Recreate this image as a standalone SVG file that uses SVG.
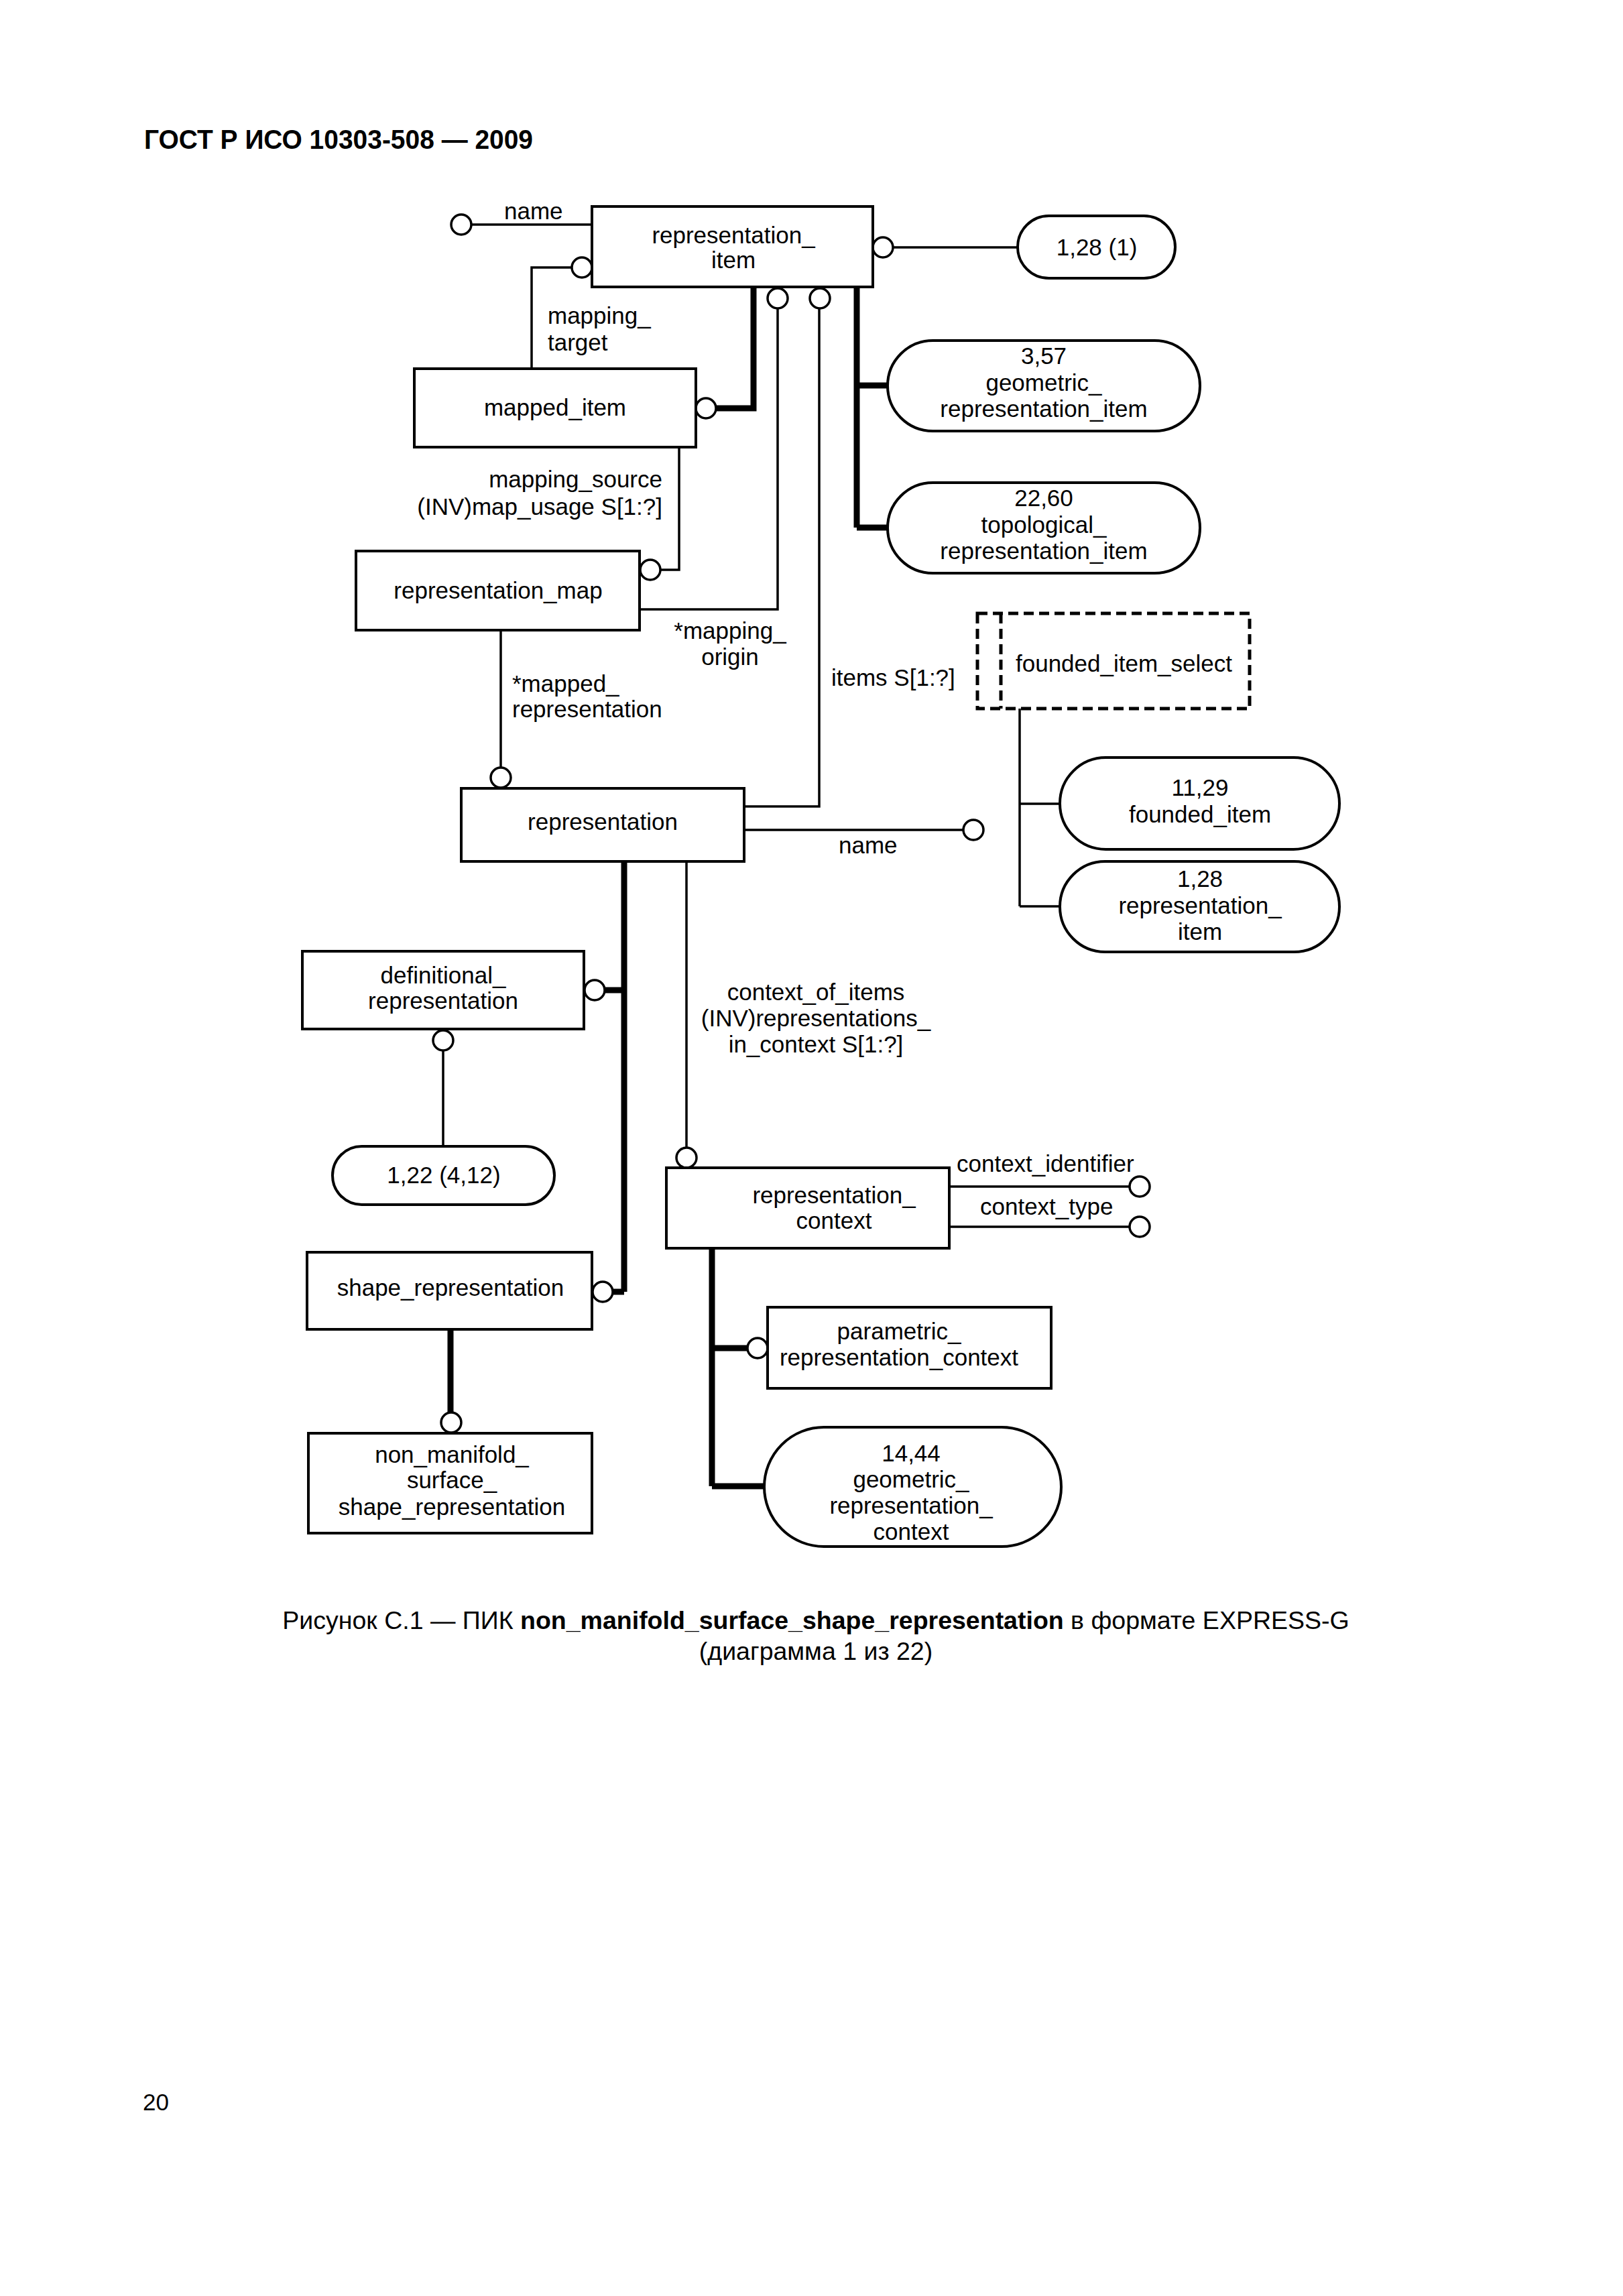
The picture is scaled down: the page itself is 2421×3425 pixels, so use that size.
<svg xmlns="http://www.w3.org/2000/svg" width="2421" height="3425" viewBox="0 0 2421 3425">
<style>
text{font-family:"Liberation Sans",Arial,sans-serif;font-size:35px;fill:#000}
.c{text-anchor:middle}
.e{text-anchor:end}
.box{fill:#fff;stroke:#000;stroke-width:4}
.pill{fill:#fff;stroke:#000;stroke-width:4}
.sel{fill:none;stroke:#000;stroke-width:5;stroke-dasharray:15 8}
.ln{fill:none;stroke:#000;stroke-width:3.5}
.thk{fill:none;stroke:#000;stroke-width:9}
.o{fill:#fff;stroke:#000;stroke-width:3.5}
.hdr{font-size:40px;font-weight:bold}
.cap{font-size:37.5px}
</style>
<rect x="0" y="0" width="2421" height="3425" fill="#fff"/>
<text class="hdr" x="215" y="222" textLength="580" lengthAdjust="spacingAndGlyphs">ГОСТ Р ИСО 10303-508 — 2009</text>

<g id="connectors">
  <path class="ln" d="M703,335 H883"/>
  <path class="ln" d="M853,399 H793 V550"/>
  <path class="ln" d="M1332,369 H1518"/>
  <path class="thk" d="M1124,428 V609 H1068"/>
  <path class="thk" d="M1278,428 V787 M1278,575 H1324 M1278,787 H1324"/>
  <path class="ln" d="M1013,667 V850 H986"/>
  <path class="ln" d="M954,909 H1160 V460"/>
  <path class="ln" d="M747,940 V1144"/>
  <path class="ln" d="M1110,1203 H1222 V460"/>
  <path class="ln" d="M1110,1238 H1437"/>
  <path class="ln" d="M1521,1057 V1352 M1521,1199 H1581 M1521,1352 H1581"/>
  <path class="thk" d="M931,1285 V1927 M931,1477 H902 M931,1927 H914"/>
  <path class="ln" d="M661,1567 V1710"/>
  <path class="ln" d="M1024,1285 V1712"/>
  <path class="ln" d="M1416,1770 H1685 M1416,1830 H1685"/>
  <path class="thk" d="M1062,1862 V2217 M1062,2011 H1115 M1062,2217 H1140"/>
  <path class="thk" d="M672,1983 V2107"/>
  <circle class="o" cx="688" cy="335" r="15"/>
  <circle class="o" cx="868" cy="399" r="15"/>
  <circle class="o" cx="1317" cy="369" r="15"/>
  <circle class="o" cx="1053" cy="609" r="15"/>
  <circle class="o" cx="1160" cy="445" r="15"/>
  <circle class="o" cx="1223" cy="445" r="15"/>
  <circle class="o" cx="970" cy="850" r="15"/>
  <circle class="o" cx="747" cy="1160" r="15"/>
  <circle class="o" cx="1452" cy="1238" r="15"/>
  <circle class="o" cx="887" cy="1477" r="15"/>
  <circle class="o" cx="899" cy="1927" r="15"/>
  <circle class="o" cx="661" cy="1552" r="15"/>
  <circle class="o" cx="1024" cy="1727" r="15"/>
  <circle class="o" cx="1700" cy="1770" r="15"/>
  <circle class="o" cx="1700" cy="1830" r="15"/>
  <circle class="o" cx="1130" cy="2011" r="15"/>
  <circle class="o" cx="673" cy="2122" r="15"/>
  <text x="752" y="327">name</text>
  <text x="817" y="483">mapping_</text>
  <text x="817" y="523">target</text>
  <text class="e" x="988" y="727">mapping_source</text>
  <text class="e" x="988" y="768">(INV)map_usage S[1:?]</text>
  <text class="c" x="1089" y="953">*mapping_</text>
  <text class="c" x="1089" y="992">origin</text>
  <text x="764" y="1032">*mapped_</text>
  <text x="764" y="1070">representation</text>
  <text x="1240" y="1023">items S[1:?]</text>
  <text x="1251" y="1273">name</text>
  <text class="c" x="1217" y="1492">context_of_items</text>
  <text class="c" x="1217" y="1531">(INV)representations_</text>
  <text class="c" x="1217" y="1570">in_context S[1:?]</text>
  <text x="1427" y="1748">context_identifier</text>
  <text x="1462" y="1812">context_type</text>
</g>

<g id="representation_item">
  <rect class="box" x="883" y="308" width="419" height="120"/>
  <text class="c" x="1094" y="363">representation_</text>
  <text class="c" x="1094" y="400">item</text>
</g>
<g id="ref_1_28_1">
  <rect class="pill" x="1518" y="322" width="235" height="93" rx="46.5" ry="46.5"/>
  <text class="c" x="1636" y="381">1,28 (1)</text>
</g>
<g id="mapped_item">
  <rect class="box" x="618" y="550" width="420" height="117"/>
  <text class="c" x="828" y="620">mapped_item</text>
</g>
<g id="geometric_representation_item">
  <rect class="pill" x="1324" y="508" width="466" height="135" rx="67.5" ry="67.5"/>
  <text class="c" x="1557" y="543">3,57</text>
  <text class="c" x="1557" y="583">geometric_</text>
  <text class="c" x="1557" y="622">representation_item</text>
</g>
<g id="topological_representation_item">
  <rect class="pill" x="1324" y="720" width="466" height="135" rx="67.5" ry="67.5"/>
  <text class="c" x="1557" y="755">22,60</text>
  <text class="c" x="1557" y="795">topological_</text>
  <text class="c" x="1557" y="834">representation_item</text>
</g>
<g id="representation_map">
  <rect class="box" x="531" y="822" width="423" height="118"/>
  <text class="c" x="743" y="893">representation_map</text>
</g>
<g id="founded_item_select">
  <rect class="sel" x="1458" y="915" width="406" height="142"/>
  <path class="sel" d="M1493,915 V1057"/>
  <text x="1515" y="1002">founded_item_select</text>
</g>
<g id="founded_item">
  <rect class="pill" x="1581" y="1130" width="417" height="137" rx="68.5" ry="68.5"/>
  <text class="c" x="1790" y="1187">11,29</text>
  <text class="c" x="1790" y="1227">founded_item</text>
</g>
<g id="ref_representation_item">
  <rect class="pill" x="1581" y="1285" width="417" height="135" rx="67.5" ry="67.5"/>
  <text class="c" x="1790" y="1323">1,28</text>
  <text class="c" x="1790" y="1363">representation_</text>
  <text class="c" x="1790" y="1402">item</text>
</g>
<g id="representation">
  <rect class="box" x="688" y="1176" width="422" height="109"/>
  <text class="c" x="899" y="1238">representation</text>
</g>
<g id="definitional_representation">
  <rect class="box" x="451" y="1419" width="420" height="116"/>
  <text class="c" x="661" y="1467">definitional_</text>
  <text class="c" x="661" y="1505">representation</text>
</g>
<g id="ref_1_22">
  <rect class="pill" x="496" y="1710" width="331" height="87" rx="43.5" ry="43.5"/>
  <text class="c" x="662" y="1765">1,22 (4,12)</text>
</g>
<g id="representation_context">
  <rect class="box" x="994" y="1742" width="422" height="120"/>
  <text class="c" x="1244" y="1795">representation_</text>
  <text class="c" x="1244" y="1833">context</text>
</g>
<g id="shape_representation">
  <rect class="box" x="458" y="1868" width="425" height="115"/>
  <text class="c" x="672" y="1933">shape_representation</text>
</g>
<g id="parametric_representation_context">
  <rect class="box" x="1145" y="1950" width="423" height="121"/>
  <text class="c" x="1341" y="1998">parametric_</text>
  <text class="c" x="1341" y="2037">representation_context</text>
</g>
<g id="geometric_representation_context">
  <rect class="pill" x="1140" y="2129" width="443" height="178" rx="89" ry="89"/>
  <text class="c" x="1359" y="2180">14,44</text>
  <text class="c" x="1359" y="2219">geometric_</text>
  <text class="c" x="1359" y="2258">representation_</text>
  <text class="c" x="1359" y="2297">context</text>
</g>
<g id="non_manifold_surface_shape_representation">
  <rect class="box" x="460" y="2138" width="423" height="149"/>
  <text class="c" x="674" y="2182">non_manifold_</text>
  <text class="c" x="674" y="2220">surface_</text>
  <text class="c" x="674" y="2260">shape_representation</text>
</g>

<text class="cap c" x="1217" y="2430">Рисунок С.1 — ПИК <tspan font-weight="bold">non_manifold_surface_shape_representation</tspan> в формате EXPRESS-G</text>
<text class="cap c" x="1217" y="2476">(диаграмма 1 из 22)</text>
<text x="213" y="3148" font-size="36">20</text>
</svg>
